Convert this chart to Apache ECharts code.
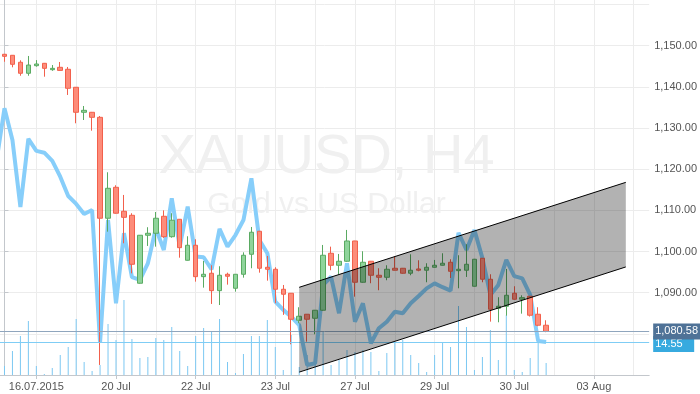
<!DOCTYPE html>
<html><head><meta charset="utf-8">
<script src="https://cdn.jsdelivr.net/npm/echarts@6/dist/echarts.min.js"></script>
<style>html,body{margin:0;padding:0;background:#fff}#c{width:700px;height:394px}</style>
</head><body><div id="c"></div>
<script>
// ---- data (candle index = H4 bar number) ----
const opens  = [1147.91,1147.67,1145.97,1143.30,1145.14,1145.72,1144.17,1144.75,1144.27,1139.90,1133.82,1133.82,1132.60,1108.08,1115.60,1109.78,1108.80,1092.29,1103.95,1104.43,1108.56,1103.60,1107.83,1097.87,1101.52,1093.89,1094.72,1090.49,1094.47,1091.07,1094.47,1099.33,1104.92,1096.17,1095.69,1090.83,1089.86,1083.30,1084.76,1083.78,1085.73,1099.57,1096.66,1097.63,1102.56,1092.53,1097.63,1094.23,1093.74,1095.93,1095.93,1094.72,1095.76,1095.45,1096.17,1096.66,1097.39,1095.35,1095.45,1091.56,1098.36,1093.26,1086.21,1086.70,1089.86,1088.40,1089.13,1084.76,1082.09];
const closes = [1147.42,1145.48,1143.30,1145.30,1145.55,1144.50,1144.50,1144.00,1139.65,1133.82,1134.30,1132.60,1108.08,1115.36,1109.30,1108.30,1096.90,1103.95,1104.43,1108.08,1103.60,1107.60,1100.93,1101.52,1093.89,1094.47,1090.49,1094.23,1093.99,1094.47,1099.09,1104.68,1095.93,1095.69,1090.83,1089.62,1083.54,1084.27,1083.54,1085.73,1099.09,1096.66,1097.63,1102.56,1092.53,1097.39,1094.23,1093.74,1095.69,1095.45,1094.72,1095.45,1095.45,1096.17,1096.66,1097.15,1095.20,1095.69,1096.90,1098.12,1093.26,1085.97,1086.70,1089.37,1088.40,1088.79,1084.52,1082.09,1080.58];
const lows   = [1146.10,1144.75,1142.70,1142.70,1144.90,1142.47,1143.90,1143.90,1138.03,1131.15,1131.95,1129.35,1072.44,1104.82,1109.20,1102.00,1094.70,1092.20,1101.35,1101.18,1103.30,1103.36,1098.50,1097.80,1092.68,1091.22,1087.26,1087.00,1091.95,1090.25,1093.65,1095.93,1094.86,1092.92,1087.43,1084.60,1077.47,1082.57,1078.10,1079.90,1085.60,1095.45,1094.47,1097.50,1089.03,1092.40,1092.29,1090.59,1093.02,1095.40,1094.60,1094.23,1095.20,1092.53,1096.10,1096.60,1093.57,1091.07,1093.82,1091.50,1092.53,1082.96,1082.81,1084.42,1088.30,1084.90,1084.20,1081.84,1080.40];
const highs  = [1148.00,1147.70,1146.45,1147.50,1146.50,1145.80,1145.30,1146.04,1144.83,1139.95,1135.35,1133.90,1132.92,1119.25,1116.10,1113.74,1109.30,1104.00,1105.90,1109.60,1110.00,1109.30,1107.90,1103.70,1102.97,1097.70,1096.66,1096.42,1094.86,1094.50,1099.80,1105.96,1105.00,1098.92,1096.17,1091.87,1089.90,1086.46,1084.80,1085.80,1101.59,1101.18,1099.40,1105.24,1102.60,1100.06,1097.70,1095.93,1096.66,1098.85,1096.00,1099.33,1097.87,1097.15,1097.95,1099.57,1098.12,1099.09,1101.76,1098.20,1098.40,1094.47,1088.89,1095.76,1091.56,1089.37,1089.20,1086.46,1083.30];
// indicator line, starts one bar before the first visible candle (index -1)
const indicator = [94.4,117.6,103.6,74.1,104.1,98.8,98.0,94.4,87.4,78.9,75.4,71.0,72.7,14.3,68.3,31.6,62.5,43.1,41.9,49.2,64.7,55.1,77.9,56.6,74.2,52.2,51.9,46.6,64.4,56.6,61.7,68.3,86.7,59.5,53.7,32.3,28.7,25.7,22.0,4.4,5.2,39.7,43.3,27.2,49.2,23.5,31.6,14.0,20.6,23.5,27.9,27.2,31.6,34.8,38.2,40.4,38.7,37.2,62.7,55.1,63.9,51.5,35.3,39.7,50.7,43.6,42.6,35.3,15.0,14.55];
const volume = [360,960,1560,2160,360,40,280,800,1120,2240,520,160,400,2040,1400,3000,1440,680,720,1480,1400,1920,960,360,1560,1880,1720,2240,520,80,840,1560,1560,2200,1120,200,1600,320,800,600,1720,400,600,1000,920,1000,920,160,880,1320,1400,800,480,120,800,1280,1120,2760,1920,200,720,1800,600,2400,200,120,680,1320,480];
// channel: [bar index, upper price, lower price]
const channelStart = [37, 1091.3, 1070.7];
const channelEnd   = [78, 1116.8, 1096.25];
const lastPrice = 1080.58;
const lastIndicator = 14.55;
const xLabelIdx  = [4, 14, 24, 34, 44, 54, 64, 74];
const xLabelText = ['16.07.2015', '20 Jul', '22 Jul', '23 Jul', '27 Jul', '29 Jul', '30 Jul', '03 Aug'];
const xGridIdx = [4,9,14,19,24,29,34,39,44,49,54,59,64,69,74,79];
const yLabelVals = [1090, 1100, 1110, 1120, 1130, 1140, 1150];
const yGridVals  = [1080, 1090, 1100, 1110, 1120, 1130, 1140, 1150, 1160];

const X_MIN = -0.5625, X_MAX = 80.9375;
const Y_MIN = 1070, Y_MAX = 1161.1;
const FONT = '"Liberation Sans", Arial, sans-serif';

function fmtPrice(v) {
  return v.toFixed(2).replace(/\B(?=(\d{3})+(?!\d))/, ',');
}

const candleData = opens.map((o, i) => [i, o, closes[i], lows[i], highs[i]]);
const indData = indicator.map((v, k) => [k - 1, v]);
const volData = volume.map((v, i) => [i, v]);

const chart = echarts.init(document.getElementById('c'), null, {renderer: 'canvas'});
chart.setOption({
  animation: false,
  backgroundColor: '#ffffff',
  textStyle: {fontFamily: FONT},
  grid: {left: 0, right: 48, top: 0, bottom: 19, containLabel: false},
  graphic: [
    {type: 'text', x: 326.5, y: 157.5, z: 1, silent: true,
     style: {text: 'XAUUSD, H4', fill: '#f0f0f0', fontSize: 56, fontFamily: FONT, align: 'center', verticalAlign: 'middle'}},
    {type: 'text', x: 326.5, y: 205, z: 1, silent: true,
     style: {text: 'Gold vs US Dollar', fill: '#f0f0f0', fontSize: 30, fontFamily: FONT, align: 'center', verticalAlign: 'middle'}}
  ],
  xAxis: [
    {type: 'value', min: X_MIN, max: X_MAX, position: 'bottom',
     axisLine: {show: true, lineStyle: {color: '#c3c7cc', width: 1}},
     axisTick: {show: true, length: 4, customValues: xLabelIdx, lineStyle: {color: '#c3c7cc'}},
     axisLabel: {customValues: xLabelIdx, color: '#555', fontSize: 11, margin: 6, fontFamily: FONT,
       formatter: v => { const k = xLabelIdx.indexOf(Math.round(v)); return k >= 0 ? xLabelText[k] : ''; }},
     splitLine: {show: false}},
    {type: 'value', min: X_MIN, max: X_MAX, position: 'bottom',
     axisLine: {show: false}, axisTick: {show: false, customValues: xGridIdx}, axisLabel: {show: false},
     splitLine: {show: true, lineStyle: {color: '#ececec', width: 1}}}
  ],
  yAxis: [
    {type: 'value', min: Y_MIN, max: Y_MAX, position: 'right', scale: true,
     axisLine: {show: true, lineStyle: {color: '#c3c7cc', width: 1}},
     axisTick: {show: true, length: 4, customValues: yLabelVals, lineStyle: {color: '#c3c7cc'}},
     axisLabel: {customValues: yLabelVals, color: '#555', fontSize: 11, margin: 5, fontFamily: FONT, formatter: fmtPrice},
     splitLine: {show: false}},
    {type: 'value', min: 0, max: 165.3, show: false},
    {type: 'value', min: 0, max: 15000, show: false},
    {type: 'value', min: Y_MIN, max: Y_MAX, position: 'right', scale: true,
     axisLine: {show: false}, axisTick: {show: false, customValues: yGridVals}, axisLabel: {show: false},
     splitLine: {show: true, lineStyle: {color: '#ececec', width: 1}}}
  ],
  series: [
    {type: 'bar', name: 'Volume', xAxisIndex: 0, yAxisIndex: 2, data: volData, barWidth: 1, z: 1,
     itemStyle: {color: '#7cc8f2'}, silent: true},
    {type: 'line', name: 'Indicator', xAxisIndex: 0, yAxisIndex: 1, data: indData, z: 2,
     symbol: 'none', silent: true, lineStyle: {color: '#87cefa', width: 4},
     markLine: {symbol: 'none', silent: true, animation: false,
       data: [{yAxis: lastIndicator}],
       lineStyle: {color: '#7fcdf5', width: 1, type: 'solid'},
       label: {position: 'end', distance: 4, offset: [0, 2], formatter: '14.55', backgroundColor: '#37aadf', color: '#fff',
               fontSize: 11, fontFamily: FONT, padding: [3, 3, 2, 2], width: 36}}},
    {type: 'candlestick', name: 'XAUUSD', xAxisIndex: 0, yAxisIndex: 0, data: candleData, z: 3,
     dimensions: ['t', 'open', 'close', 'lowest', 'highest'],
     encode: {x: 't', y: ['open', 'close', 'lowest', 'highest']},
     barWidth: 5, silent: true,
     itemStyle: {color: '#8fd49b', color0: '#fd8c7a', borderColor: '#5aaa62', borderColor0: '#f2604c', borderWidth: 1},
     markLine: {symbol: 'none', silent: true, animation: false,
       data: [{yAxis: lastPrice}],
       lineStyle: {color: '#8fa5bd', width: 1, type: 'solid'},
       label: {position: 'end', distance: 4, formatter: fmtPrice(lastPrice), backgroundColor: '#4f7297', color: '#fff',
               fontSize: 11, fontFamily: FONT, padding: [3, 2, 2, 2]}}},
    {type: 'custom', name: 'Channel', xAxisIndex: 0, yAxisIndex: 0, z: 5, silent: true,
     data: [[channelStart[0], channelStart[1], channelStart[2], channelEnd[0], channelEnd[1], channelEnd[2]]],
     encode: {x: [0, 3], y: [1, 2, 4, 5]},
     renderItem: (params, api) => {
       const a = api.coord([api.value(0), api.value(1)]);
       const b = api.coord([api.value(3), api.value(4)]);
       const c = api.coord([api.value(3), api.value(5)]);
       const d = api.coord([api.value(0), api.value(2)]);
       return {type: 'group', children: [
         {type: 'polygon', shape: {points: [a, b, c, d]}, style: {fill: 'rgba(0,0,0,0.3)'}},
         {type: 'line', shape: {x1: a[0], y1: a[1], x2: b[0], y2: b[1]}, style: {stroke: '#000', lineWidth: 1}},
         {type: 'line', shape: {x1: d[0], y1: d[1], x2: c[0], y2: c[1]}, style: {stroke: '#000', lineWidth: 1}}
       ]};
     }}
  ]
});
</script>
</body></html>
